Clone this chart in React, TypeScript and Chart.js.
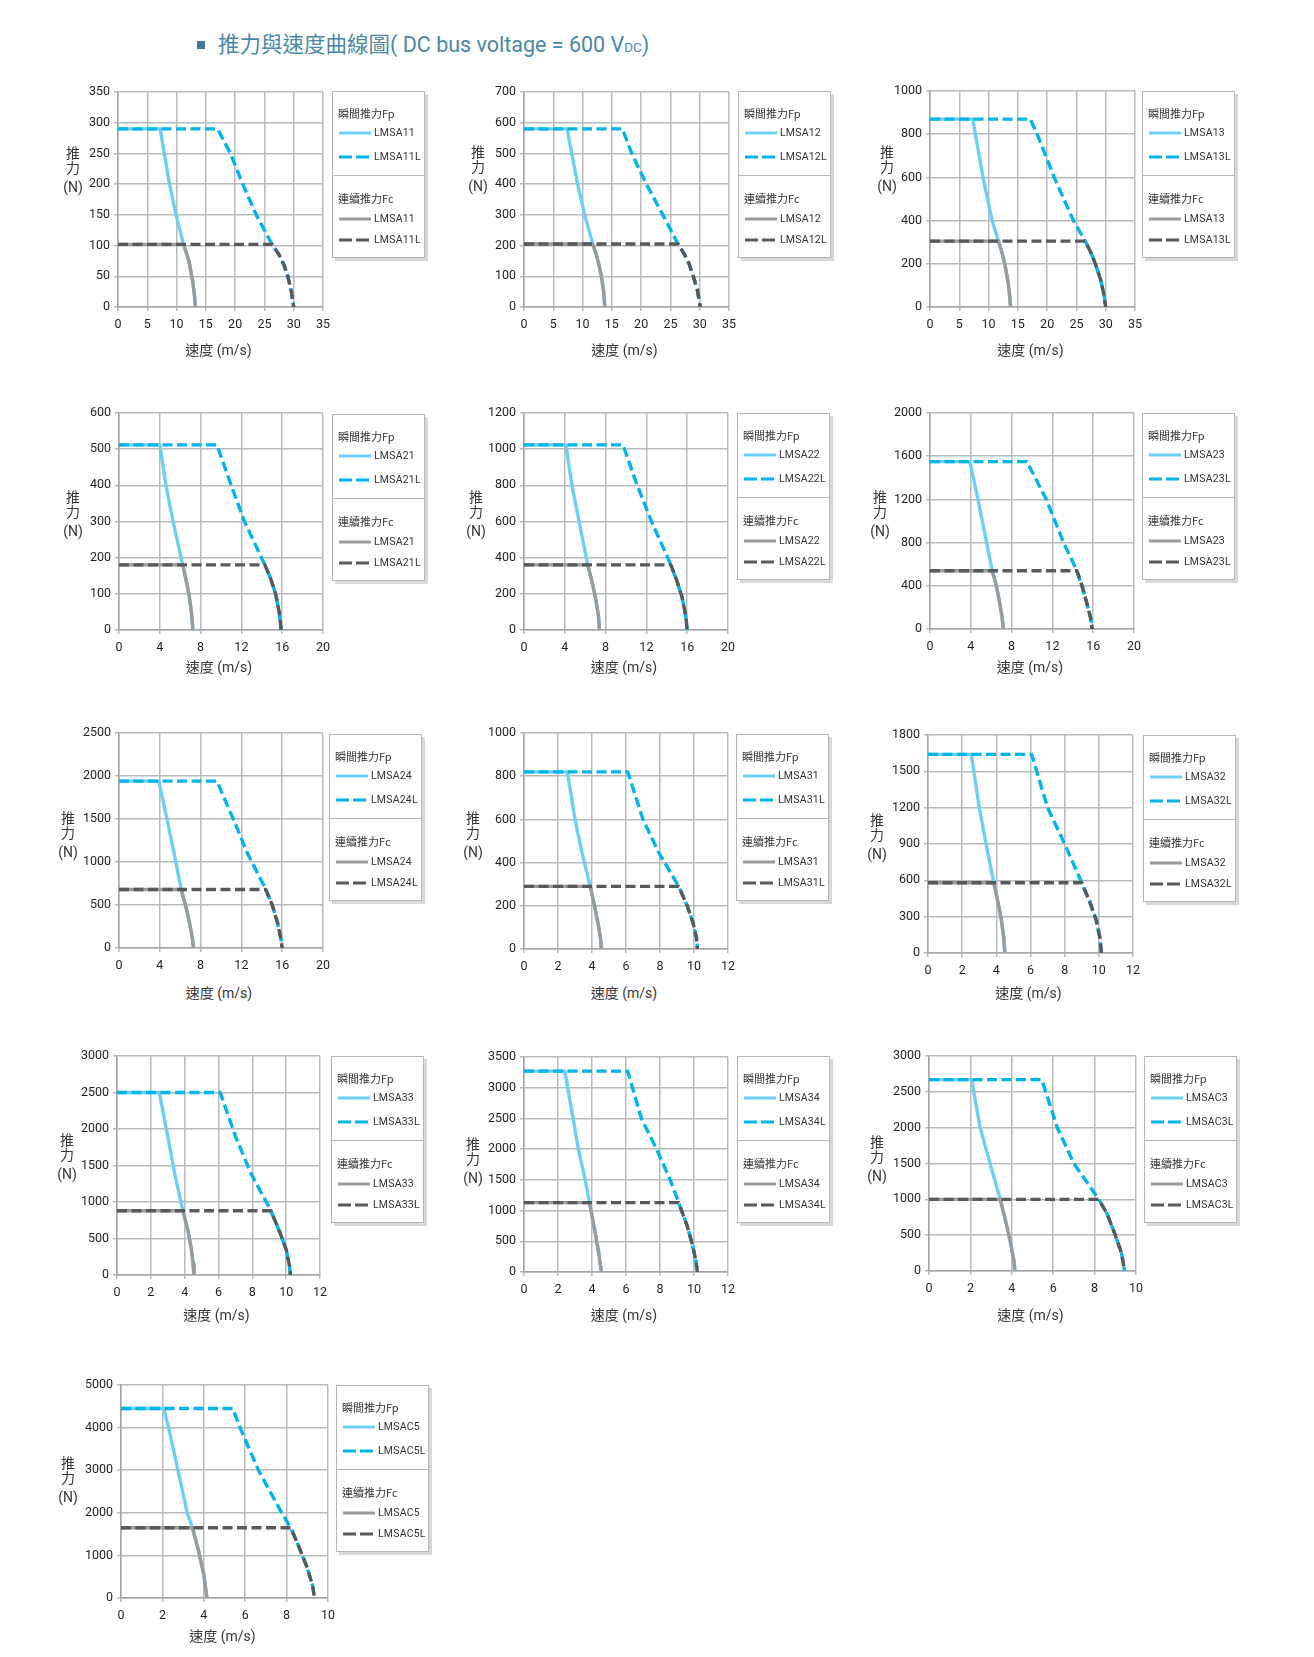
import React, { useEffect, useRef } from 'react';
import { Chart, registerables } from 'chart.js';
Chart.register(...registerables);

type Pt = [number, number];

// ---------- chart metadata ----------
const CHART_NAMES = ['LMSA11', 'LMSA12', 'LMSA13', 'LMSA21', 'LMSA22', 'LMSA23', 'LMSA24', 'LMSA31', 'LMSA32', 'LMSA33', 'LMSA34', 'LMSAC3', 'LMSAC5'];
const X_MAX = [35, 35, 35, 20, 20, 20, 20, 12, 12, 12, 12, 10, 10];
const X_STEP = [5, 5, 5, 4, 4, 4, 4, 2, 2, 2, 2, 2, 2];
const Y_MAX = [350, 700, 1000, 600, 1200, 2000, 2500, 1000, 1800, 3000, 3500, 3000, 5000];
const Y_STEP = [50, 100, 200, 100, 200, 400, 500, 200, 300, 500, 500, 500, 1000];

const TITLE_MAIN = '推力與速度曲線圖( DC bus voltage = 600 V';
const TITLE_SUB = 'DC';
const TITLE_END = ')';
const X_TITLE = '速度 (m/s)';
const Y_TITLE = ['推', '力', '(N)'];
const LEGEND_FP = '瞬間推力Fp';
const LEGEND_FC = '連續推力Fc';

// ---------- series (speed m/s, force N) ----------
const LMSA11_FP: Pt[] = [[0, 290], [7.2, 290], [7.9, 250], [8.8, 200], [9.9, 150], [11.2, 102], [12.1, 75], [12.7, 45], [13.05, 20], [13.2, 0]];
const LMSA11_FPL: Pt[] = [[0, 290], [17.0, 290], [19.2, 250], [21.3, 200], [23.6, 150], [26.3, 102], [27.5, 85], [28.4, 67], [29.0, 50], [29.6, 25], [30, 0]];
const LMSA11_FC: Pt[] = [[0, 102], [11.2, 102], [12.1, 75], [12.7, 45], [13.05, 20], [13.2, 0]];
const LMSA11_FCL: Pt[] = [[0, 102], [26.3, 102], [27.5, 85], [28.4, 67], [29.0, 50], [29.6, 25], [30, 0]];

const LMSA12_FP: Pt[] = [[0, 580], [7.35, 580], [8.15, 500], [9.15, 400], [10.35, 300], [11.75, 205], [12.5, 160], [13.0, 120], [13.3, 90], [13.6, 50], [13.8, 0]];
const LMSA12_FPL: Pt[] = [[0, 580], [16.8, 580], [18.4, 500], [20.9, 400], [23.7, 300], [26.3, 205], [27.3, 175], [28.2, 140], [28.9, 100], [29.6, 55], [30.1, 0]];
const LMSA12_FC: Pt[] = [[0, 205], [11.75, 205], [12.5, 160], [13.0, 120], [13.3, 90], [13.6, 50], [13.8, 0]];
const LMSA12_FCL: Pt[] = [[0, 205], [26.3, 205], [27.3, 175], [28.2, 140], [28.9, 100], [29.6, 55], [30.1, 0]];

const LMSA13_FP: Pt[] = [[0, 870], [7.3, 870], [7.75, 800], [9.05, 600], [10.6, 400], [11.7, 305], [12.3, 250], [12.8, 195], [13.3, 120], [13.6, 55], [13.75, 0]];
const LMSA13_FPL: Pt[] = [[0, 870], [17.1, 870], [18.3, 800], [21.2, 600], [24.5, 400], [26.5, 305], [27.5, 250], [28.3, 195], [29.2, 120], [29.7, 55], [30, 0]];
const LMSA13_FC: Pt[] = [[0, 305], [11.7, 305], [12.3, 250], [12.8, 195], [13.3, 120], [13.6, 55], [13.75, 0]];
const LMSA13_FCL: Pt[] = [[0, 305], [26.5, 305], [27.5, 250], [28.3, 195], [29.2, 120], [29.7, 55], [30, 0]];

const LMSA21_FP: Pt[] = [[0, 512], [4.0, 512], [4.6, 400], [5.3, 300], [6.25, 180], [6.6, 135], [6.85, 100], [7.1, 50], [7.25, 0]];
const LMSA21_FPL: Pt[] = [[0, 512], [9.6, 512], [11.0, 400], [12.3, 300], [14.3, 180], [14.9, 140], [15.35, 100], [15.7, 50], [15.9, 0]];
const LMSA21_FC: Pt[] = [[0, 180], [6.25, 180], [6.6, 135], [6.85, 100], [7.1, 50], [7.25, 0]];
const LMSA21_FCL: Pt[] = [[0, 180], [14.3, 180], [14.9, 140], [15.35, 100], [15.7, 50], [15.9, 0]];

const LMSA22_FP: Pt[] = [[0, 1024], [4.1, 1024], [4.7, 800], [5.4, 600], [6.25, 360], [6.7, 260], [7.0, 180], [7.3, 80], [7.4, 0]];
const LMSA22_FPL: Pt[] = [[0, 1024], [9.7, 1024], [11.1, 800], [12.5, 600], [14.4, 360], [15.0, 270], [15.5, 180], [15.85, 80], [16.0, 0]];
const LMSA22_FC: Pt[] = [[0, 360], [6.25, 360], [6.7, 260], [7.0, 180], [7.3, 80], [7.4, 0]];
const LMSA22_FCL: Pt[] = [[0, 360], [14.4, 360], [15.0, 270], [15.5, 180], [15.85, 80], [16.0, 0]];

const LMSA23_FP: Pt[] = [[0, 1550], [3.9, 1550], [4.7, 1200], [5.55, 800], [6.1, 540], [6.5, 400], [6.8, 260], [7.05, 120], [7.2, 0]];
const LMSA23_FPL: Pt[] = [[0, 1550], [9.5, 1550], [11.4, 1200], [13.1, 800], [14.4, 540], [14.9, 400], [15.4, 230], [15.75, 100], [15.9, 0]];
const LMSA23_FC: Pt[] = [[0, 540], [6.1, 540], [6.5, 400], [6.8, 260], [7.05, 120], [7.2, 0]];
const LMSA23_FCL: Pt[] = [[0, 540], [14.4, 540], [14.9, 400], [15.4, 230], [15.75, 100], [15.9, 0]];

const LMSA24_FP: Pt[] = [[0, 1940], [3.9, 1940], [4.7, 1500], [5.4, 1100], [6.1, 680], [6.6, 460], [6.95, 270], [7.2, 110], [7.3, 0]];
const LMSA24_FPL: Pt[] = [[0, 1940], [9.6, 1940], [11.2, 1500], [12.6, 1100], [14.4, 680], [15.05, 490], [15.55, 290], [15.85, 120], [16.0, 0]];
const LMSA24_FC: Pt[] = [[0, 680], [6.1, 680], [6.6, 460], [6.95, 270], [7.2, 110], [7.3, 0]];
const LMSA24_FCL: Pt[] = [[0, 680], [14.4, 680], [15.05, 490], [15.55, 290], [15.85, 120], [16.0, 0]];

const LMSA31_FP: Pt[] = [[0, 820], [2.55, 820], [3.0, 600], [3.4, 450], [3.9, 290], [4.15, 200], [4.35, 120], [4.5, 50], [4.55, 0]];
const LMSA31_FPL: Pt[] = [[0, 820], [6.1, 820], [7.0, 600], [7.9, 450], [9.1, 290], [9.6, 200], [9.95, 120], [10.15, 50], [10.2, 0]];
const LMSA31_FC: Pt[] = [[0, 290], [3.9, 290], [4.15, 200], [4.35, 120], [4.5, 50], [4.55, 0]];
const LMSA31_FCL: Pt[] = [[0, 290], [9.1, 290], [9.6, 200], [9.95, 120], [10.15, 50], [10.2, 0]];

const LMSA32_FP: Pt[] = [[0, 1640], [2.54, 1640], [3.0, 1200], [3.4, 900], [3.85, 580], [4.1, 420], [4.3, 270], [4.43, 130], [4.5, 0]];
const LMSA32_FPL: Pt[] = [[0, 1640], [6.07, 1640], [7.0, 1200], [8.0, 900], [9.0, 580], [9.45, 430], [9.85, 270], [10.07, 120], [10.15, 0]];
const LMSA32_FC: Pt[] = [[0, 580], [3.85, 580], [4.1, 420], [4.3, 270], [4.43, 130], [4.5, 0]];
const LMSA32_FCL: Pt[] = [[0, 580], [9.0, 580], [9.45, 430], [9.85, 270], [10.07, 120], [10.15, 0]];

const LMSA33_FP: Pt[] = [[0, 2500], [2.5, 2500], [3.0, 1900], [3.4, 1400], [3.9, 880], [4.2, 600], [4.4, 350], [4.5, 150], [4.55, 0]];
const LMSA33_FPL: Pt[] = [[0, 2500], [6.1, 2500], [7.0, 1900], [7.9, 1400], [9.1, 880], [9.6, 600], [10.0, 350], [10.2, 120], [10.25, 0]];
const LMSA33_FC: Pt[] = [[0, 880], [3.9, 880], [4.2, 600], [4.4, 350], [4.5, 150], [4.55, 0]];
const LMSA33_FCL: Pt[] = [[0, 880], [9.1, 880], [9.6, 600], [10.0, 350], [10.2, 120], [10.25, 0]];

const LMSA34_FP: Pt[] = [[0, 3270], [2.4, 3270], [3.2, 2000], [3.6, 1500], [3.85, 1130], [4.15, 700], [4.4, 300], [4.55, 0]];
const LMSA34_FPL: Pt[] = [[0, 3270], [6.1, 3270], [6.9, 2500], [7.8, 2000], [8.6, 1500], [9.1, 1130], [9.6, 750], [9.9, 450], [10.1, 200], [10.2, 0]];
const LMSA34_FC: Pt[] = [[0, 1130], [3.85, 1130], [4.15, 700], [4.4, 300], [4.55, 0]];
const LMSA34_FCL: Pt[] = [[0, 1130], [9.1, 1130], [9.6, 750], [9.9, 450], [10.1, 200], [10.2, 0]];

const LMSAC3_FP: Pt[] = [[0, 2670], [2.06, 2670], [2.47, 2000], [2.95, 1500], [3.44, 1000], [3.7, 700], [3.9, 450], [4.1, 150], [4.15, 0]];
const LMSAC3_FPL: Pt[] = [[0, 2670], [5.45, 2670], [6.2, 2000], [7.0, 1500], [8.2, 1000], [8.6, 800], [9.0, 500], [9.3, 250], [9.45, 0]];
const LMSAC3_FC: Pt[] = [[0, 1000], [3.44, 1000], [3.7, 700], [3.9, 450], [4.1, 150], [4.15, 0]];
const LMSAC3_FCL: Pt[] = [[0, 1000], [8.2, 1000], [8.6, 800], [9.0, 500], [9.3, 250], [9.45, 0]];

const LMSAC5_FP: Pt[] = [[0, 4450], [2.06, 4450], [2.3, 4000], [2.75, 3000], [3.2, 2000], [3.45, 1650], [3.75, 1100], [4.0, 550], [4.15, 0]];
const LMSAC5_FPL: Pt[] = [[0, 4450], [5.4, 4450], [5.75, 4000], [6.64, 3000], [7.76, 2000], [8.2, 1650], [8.6, 1200], [9.0, 700], [9.25, 300], [9.35, 0]];
const LMSAC5_FC: Pt[] = [[0, 1650], [3.45, 1650], [3.75, 1100], [4.0, 550], [4.15, 0]];
const LMSAC5_FCL: Pt[] = [[0, 1650], [8.2, 1650], [8.6, 1200], [9.0, 700], [9.25, 300], [9.35, 0]];

const FP_SERIES = [LMSA11_FP, LMSA12_FP, LMSA13_FP, LMSA21_FP, LMSA22_FP, LMSA23_FP, LMSA24_FP, LMSA31_FP, LMSA32_FP, LMSA33_FP, LMSA34_FP, LMSAC3_FP, LMSAC5_FP];
const FPL_SERIES = [LMSA11_FPL, LMSA12_FPL, LMSA13_FPL, LMSA21_FPL, LMSA22_FPL, LMSA23_FPL, LMSA24_FPL, LMSA31_FPL, LMSA32_FPL, LMSA33_FPL, LMSA34_FPL, LMSAC3_FPL, LMSAC5_FPL];
const FC_SERIES = [LMSA11_FC, LMSA12_FC, LMSA13_FC, LMSA21_FC, LMSA22_FC, LMSA23_FC, LMSA24_FC, LMSA31_FC, LMSA32_FC, LMSA33_FC, LMSA34_FC, LMSAC3_FC, LMSAC5_FC];
const FCL_SERIES = [LMSA11_FCL, LMSA12_FCL, LMSA13_FCL, LMSA21_FCL, LMSA22_FCL, LMSA23_FCL, LMSA24_FCL, LMSA31_FCL, LMSA32_FCL, LMSA33_FCL, LMSA34_FCL, LMSAC3_FCL, LMSAC5_FCL];

// ---------- layout (page px) ----------
const PLOTS: [number, number, number, number][] = [
  [118, 92, 323, 307], [524, 92, 729, 307], [930, 91, 1135, 307],
  [119, 413, 323, 630], [524, 413, 728, 630], [930, 413, 1134, 629],
  [119, 733, 323, 948], [524, 733, 728, 949], [928, 735, 1133, 953],
  [117, 1056, 320, 1275], [524, 1057, 728, 1272], [929, 1056, 1136, 1271],
  [121, 1385, 328, 1598],
];
const LEGEND_POS: [number, number][] = [
  [332, 91], [738, 91], [1142, 91],
  [332, 414], [737, 413], [1142, 413],
  [329, 734], [736, 734], [1143, 735],
  [331, 1056], [737, 1056], [1144, 1056],
  [336, 1385],
];
const YTITLE_POS: [number, number][] = [
  [73, 153], [478, 152], [887, 152],
  [73, 497], [476, 497], [880, 497],
  [68, 818], [473, 818], [877, 820],
  [67, 1140], [473, 1144], [877, 1142],
  [68, 1463],
];
const XTITLE_Y = [350, 350, 350, 667, 667, 667, 993, 993, 993, 1315, 1315, 1315, 1636];

const C_FP = '#6dcff6';
const C_FPL = '#00b4ec';
const C_FC = '#9a9b9d';
const C_FCL = '#58595b';
const GRID = '#b9babc';
const AXIS = '#a4a5a7';
const TXT = '#231f20';

const toXY = (s: Pt[]) => s.map(([x, y]) => ({ x, y }));

function Panel({ i }: { i: number }) {
  const ref = useRef<HTMLCanvasElement | null>(null);
  const [L, T, R, B] = PLOTS[i];
  const padL = 62, padT = 12, padR = 16, padB = 34;
  const cw = R - L + padL + padR;
  const ch = B - T + padT + padB;
  useEffect(() => {
    if (!ref.current) return;
    const name = CHART_NAMES[i];
    const common = { pointRadius: 0, borderWidth: 3.4, fill: false, tension: 0, borderJoinStyle: 'round' as const };
    const tickFont = { family: 'Roboto', size: 12.5 };
    const chart = new Chart(ref.current, {
      type: 'line',
      data: {
        datasets: [
          { ...common, label: name + 'L', data: toXY(FCL_SERIES[i]), borderColor: C_FCL, borderDash: [10, 4.5], order: 0 },
          { ...common, label: name + 'L', data: toXY(FPL_SERIES[i]), borderColor: C_FPL, borderDash: [10, 4.5], order: 1 },
          { ...common, label: name, data: toXY(FC_SERIES[i]), borderColor: C_FC, order: 2 },
          { ...common, label: name, data: toXY(FP_SERIES[i]), borderColor: C_FP, order: 3 },
        ],
      },
      options: {
        animation: false,
        responsive: false,
        maintainAspectRatio: false,
        layout: { padding: { top: padT, right: padR, left: 0, bottom: 0 } },
        plugins: { legend: { display: false }, tooltip: { enabled: false } },
        scales: {
          x: {
            type: 'linear',
            min: 0,
            max: X_MAX[i],
            ticks: { stepSize: X_STEP[i], autoSkip: false, maxRotation: 0, padding: 6, color: TXT, font: tickFont, callback: (v: any) => String(v) },
            grid: { color: GRID, lineWidth: 1.5, tickLength: 4 },
            border: { color: AXIS, width: 1.5 },
            afterFit: (s: any) => { s.height = padB; },
          },
          y: {
            type: 'linear',
            min: 0,
            max: Y_MAX[i],
            ticks: { stepSize: Y_STEP[i], autoSkip: false, padding: 4, color: TXT, font: tickFont, callback: (v: any) => String(v) },
            grid: { color: GRID, lineWidth: 1.5, tickLength: 4 },
            border: { color: AXIS, width: 1.5 },
            afterFit: (s: any) => { s.width = padL; },
          },
        },
      },
    });
    return () => chart.destroy();
  }, [i]);
  return (
    <canvas
      ref={ref}
      width={cw}
      height={ch}
      style={{ position: 'absolute', left: L - padL, top: T - padT, width: cw, height: ch }}
    />
  );
}

function LegendBox({ i }: { i: number }) {
  const [x, y] = LEGEND_POS[i];
  const name = CHART_NAMES[i];
  const rows = [
    { h: true, text: LEGEND_FP, cy: 21 },
    { h: false, text: name, cy: 41, color: C_FP, dash: false },
    { h: false, text: name + 'L', cy: 65, color: C_FPL, dash: true },
    { h: true, text: LEGEND_FC, cy: 106 },
    { h: false, text: name, cy: 127, color: C_FC, dash: false },
    { h: false, text: name + 'L', cy: 147.5, color: C_FCL, dash: true },
  ];
  return (
    <div style={{ position: 'absolute', left: x, top: y, width: 93, height: 167, boxSizing: 'border-box', border: '1px solid #b4b5b7', background: '#fff', boxShadow: '3px 3px 0 #d7d8da' }}>
      <div style={{ position: 'absolute', left: 0, right: 0, top: 83, height: 0, borderTop: '1px solid #b4b5b7' }} />
      {rows.map((r, k) =>
        r.h ? (
          <div key={k} style={{ position: 'absolute', left: 5, top: r.cy - 9, height: 18, lineHeight: '18px', fontSize: 11, fontFamily: "'Noto Sans CJK TC', Roboto, sans-serif", color: '#333', whiteSpace: 'nowrap' }}>{r.text}</div>
        ) : (
          <div key={k} style={{ position: 'absolute', left: 6, top: r.cy - 9, height: 18, display: 'flex', alignItems: 'center', whiteSpace: 'nowrap' }}>
            <svg width={32} height={6} style={{ display: 'block' }}>
              <line x1={0} y1={3} x2={32} y2={3} stroke={r.color} strokeWidth={3} strokeDasharray={r.dash ? '13 4' : undefined} />
            </svg>
            <span style={{ marginLeft: 3, fontSize: 10.5, fontFamily: 'Roboto, sans-serif', color: '#333', lineHeight: '18px', letterSpacing: 0.2 }}>{r.text}</span>
          </div>
        )
      )}
    </div>
  );
}

function AxisTitles({ i }: { i: number }) {
  const [L, , R] = PLOTS[i];
  const [yx, yy] = YTITLE_POS[i];
  const offs = [0, 14.5, 33.5];
  return (
    <>
      {Y_TITLE.map((t, k) => (
        <div key={k} style={{ position: 'absolute', left: yx - 20, width: 40, top: yy + offs[k] - 9, height: 18, lineHeight: '18px', textAlign: 'center', fontSize: 14, fontFamily: "Roboto, 'Noto Sans CJK TC', sans-serif", color: '#3a3536' }}>{t}</div>
      ))}
      <div style={{ position: 'absolute', left: (L + R) / 2 - 2 - 60, width: 120, top: XTITLE_Y[i] - 10, height: 20, lineHeight: '20px', textAlign: 'center', fontSize: 14, fontFamily: "Roboto, 'Noto Sans CJK TC', sans-serif", color: '#3a3536', whiteSpace: 'nowrap' }}>{X_TITLE}</div>
    </>
  );
}

export default function App() {
  return (
    <div style={{ position: 'absolute', left: 0, top: 0, width: 1314, height: 1657, background: '#fff', overflow: 'hidden' }}>
      <div style={{ position: 'absolute', left: 197, top: 41, width: 8, height: 8, background: '#3d7a97' }} />
      <div style={{ position: 'absolute', left: 218, top: 31, height: 28, lineHeight: '28px', fontSize: 21.5, fontFamily: "Roboto, 'Noto Sans CJK TC', sans-serif", color: '#4b87a6', whiteSpace: 'nowrap' }}>
        {TITLE_MAIN}<span style={{ fontSize: 13.5 }}>{TITLE_SUB}</span>{TITLE_END}
      </div>
      {CHART_NAMES.map((_, i) => (
        <React.Fragment key={i}>
          <Panel i={i} />
          <LegendBox i={i} />
          <AxisTitles i={i} />
        </React.Fragment>
      ))}
    </div>
  );
}
